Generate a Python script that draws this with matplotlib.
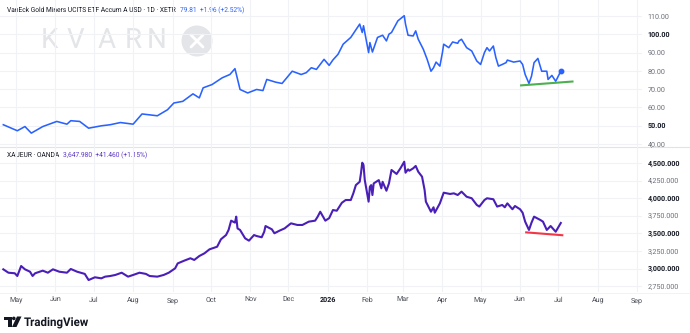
import matplotlib
matplotlib.use("Agg")
import matplotlib.pyplot as plt
import matplotlib.transforms as mtransforms
from matplotlib.patches import Circle, Polygon
import pandas as pd

plt.rcParams['font.family'] = ['Roboto', 'DejaVu Sans']
plt.rcParams['text.hinting'] = 'no_hinting'

# ---------------- data ----------------
gdx_dates = ["2025-04-21", "2025-05-02", "2025-05-08", "2025-05-13", "2025-05-22", "2025-06-02",
             "2025-06-10", "2025-06-13", "2025-06-20", "2025-06-27", "2025-07-07", "2025-07-14",
             "2025-07-22", "2025-08-01", "2025-08-08", "2025-08-20", "2025-08-28", "2025-09-02",
             "2025-09-09", "2025-09-17", "2025-09-22", "2025-09-25", "2025-10-02", "2025-10-10",
             "2025-10-16", "2025-10-20", "2025-10-24", "2025-10-30", "2025-11-06", "2025-11-11",
             "2025-11-14", "2025-11-21", "2025-11-26", "2025-12-04", "2025-12-11", "2025-12-15",
             "2025-12-19", "2025-12-23", "2025-12-29", "2026-01-02", "2026-01-05", "2026-01-09",
             "2026-01-13", "2026-01-19", "2026-01-26", "2026-01-28", "2026-01-29", "2026-02-02",
             "2026-02-03", "2026-02-05", "2026-02-09", "2026-02-13", "2026-02-16", "2026-02-18",
             "2026-02-20", "2026-02-25", "2026-03-02", "2026-03-03", "2026-03-05", "2026-03-09",
             "2026-03-11", "2026-03-13", "2026-03-17", "2026-03-20", "2026-03-23", "2026-03-25",
             "2026-03-27", "2026-03-30", "2026-04-01", "2026-04-02", "2026-04-06", "2026-04-09",
             "2026-04-13", "2026-04-14", "2026-04-16", "2026-04-20", "2026-04-24", "2026-04-28",
             "2026-05-01", "2026-05-04", "2026-05-06", "2026-05-08", "2026-05-11", "2026-05-13",
             "2026-05-15", "2026-05-18", "2026-05-21", "2026-05-22", "2026-05-27", "2026-06-01",
             "2026-06-03", "2026-06-05", "2026-06-08", "2026-06-10", "2026-06-12", "2026-06-15",
             "2026-06-18", "2026-06-22", "2026-06-23", "2026-06-26", "2026-06-29", "2026-07-03"]
gdx_values = [50.5, 47.2, 49.5, 45.9, 49.5, 52.3,
              50.8, 52.7, 52.3, 48.6, 49.9, 50.5,
              51.7, 50.8, 56.4, 55.4, 58.7, 62.4,
              63.3, 67.4, 65.2, 70.7, 72.5, 76.2,
              78.0, 81.2, 69.8, 67.9, 69.8, 69.2,
              75.3, 73.8, 73.1, 79.8, 78.0, 79.0,
              81.7, 80.8, 86.3, 83.0, 86.0, 89.1,
              94.6, 98.3, 105.6, 101.0, 104.7, 90.0,
              95.5, 90.3, 98.3, 99.5, 96.4, 100.1,
              101.0, 107.4, 110.2, 105.6, 99.5, 99.1,
              101.9, 97.3, 91.8, 86.3, 79.8, 81.7,
              84.8, 82.6, 90.0, 94.6, 92.7, 95.8,
              95.1, 96.4, 97.3, 92.7, 90.9, 85.4,
              83.5, 90.0, 92.7, 90.9, 93.6, 87.2,
              82.6, 83.5, 84.5, 85.9, 84.8, 85.4,
              83.5, 78.0, 73.1, 77.1, 84.5, 86.8,
              79.8, 79.8, 75.3, 77.5, 74.3, 79.81]

xau_dates = ["2025-04-21", "2025-04-25", "2025-04-30", "2025-05-02", "2025-05-05", "2025-05-08",
             "2025-05-12", "2025-05-14", "2025-05-16", "2025-05-22", "2025-05-26", "2025-05-30",
             "2025-06-04", "2025-06-10", "2025-06-13", "2025-06-18", "2025-06-24", "2025-06-27",
             "2025-07-02", "2025-07-07", "2025-07-10", "2025-07-14", "2025-07-18", "2025-07-23",
             "2025-07-28", "2025-08-01", "2025-08-06", "2025-08-11", "2025-08-14", "2025-08-20",
             "2025-08-25", "2025-08-29", "2025-09-03", "2025-09-05", "2025-09-10", "2025-09-15",
             "2025-09-18", "2025-09-22", "2025-09-26", "2025-09-30", "2025-10-06", "2025-10-09",
             "2025-10-13", "2025-10-15", "2025-10-17", "2025-10-20", "2025-10-21", "2025-10-22",
             "2025-10-24", "2025-10-28", "2025-10-31", "2025-11-04", "2025-11-06", "2025-11-10",
             "2025-11-12", "2025-11-13", "2025-11-18", "2025-11-20", "2025-11-24", "2025-11-28",
             "2025-12-03", "2025-12-08", "2025-12-12", "2025-12-17", "2025-12-22", "2025-12-24",
             "2025-12-26", "2025-12-30", "2026-01-02", "2026-01-05", "2026-01-08", "2026-01-12",
             "2026-01-15", "2026-01-19", "2026-01-21", "2026-01-23", "2026-01-26", "2026-01-27",
             "2026-01-28", "2026-01-29", "2026-01-30", "2026-02-02", "2026-02-03", "2026-02-04",
             "2026-02-05", "2026-02-06", "2026-02-10", "2026-02-12", "2026-02-13", "2026-02-16",
             "2026-02-18", "2026-02-20", "2026-02-24", "2026-02-27", "2026-03-02", "2026-03-03",
             "2026-03-05", "2026-03-06", "2026-03-09", "2026-03-11", "2026-03-13", "2026-03-16",
             "2026-03-18", "2026-03-19", "2026-03-23", "2026-03-25", "2026-03-26", "2026-03-30",
             "2026-04-02", "2026-04-07", "2026-04-10", "2026-04-13", "2026-04-16", "2026-04-20",
             "2026-04-24", "2026-04-28", "2026-04-30", "2026-05-04", "2026-05-06", "2026-05-11",
             "2026-05-14", "2026-05-18", "2026-05-20", "2026-05-22", "2026-05-26", "2026-05-28",
             "2026-06-01", "2026-06-03", "2026-06-05", "2026-06-08", "2026-06-10", "2026-06-12",
             "2026-06-17", "2026-06-19", "2026-06-22", "2026-06-25", "2026-06-29", "2026-07-03"]
xau_values = [2990, 2942, 2934, 2895, 3037, 2990,
              2956, 2895, 2934, 2971, 2942, 2990,
              2956, 2942, 2995, 2956, 2925, 2838,
              2877, 2862, 2886, 2895, 2910, 2942,
              2886, 2910, 2942, 2925, 2895, 2886,
              2910, 2942, 3004, 3074, 3112, 3147,
              3123, 3179, 3217, 3274, 3311, 3417,
              3477, 3549, 3681, 3653, 3738, 3571,
              3549, 3430, 3397, 3477, 3463, 3445,
              3524, 3605, 3558, 3502, 3539, 3571,
              3643, 3620, 3620, 3667, 3681, 3738,
              3808, 3681, 3717, 3832, 3822, 3935,
              3974, 3974, 4069, 4186, 4233, 4354,
              4504, 4471, 4257, 3951, 4162, 4186,
              4045, 4210, 4257, 4140, 4233, 4106,
              4210, 4401, 4344, 4424, 4518, 4362,
              4410, 4390, 4424, 4458, 4376, 4305,
              4116, 3951, 3808, 3871, 3794, 3927,
              4078, 4060, 4069, 4045, 4093, 4021,
              3999, 3904, 3881, 3974, 3999, 3985,
              3881, 3904, 3871, 3927, 3843, 3889,
              3843, 3794, 3667, 3549, 3653, 3738,
              3690, 3667, 3549, 3605, 3524, 3647.98]

green_dates = ["2026-06-01", "2026-07-13"]
green_values = [72.0, 74.2]
red_dates = ["2026-06-05", "2026-07-05"]
red_values = [3516, 3473]

gdx_ticks = [40, 50, 60, 70, 80, 90, 100, 110]
xau_ticks = [2750, 3000, 3250, 3500, 3750, 4000, 4250, 4500]
month_starts = pd.date_range("2025-05-01", "2026-09-01", freq="MS")
month_labels = ["2026" if d.month == 1 else d.strftime("%b") for d in month_starts]

gdx_title = "VanEck Gold Miners UCITS ETF Accum A USD \u00b7 1D \u00b7 XETR"
gdx_quote = "79.81  +1.96 (+2.52%)"
xau_title = "XAUEUR \u00b7 OANDA"
xau_quote = "3,647.980  +41.460 (+1.15%)"

# ---------------- figure ----------------
W, H = 690, 333
fig = plt.figure(figsize=(W / 100, H / 100), dpi=100, facecolor="white")

def fy(y):
    return 1 - y / H

PANE_R = 642
SEP = 147
BOT = 292

ov = fig.add_axes([0, 0, 1, 1], zorder=0)
ov.set_xlim(0, W)
ov.set_ylim(H, 0)
ov.axis("off")

ax1 = fig.add_axes([0, fy(SEP), PANE_R / W, SEP / H], zorder=1)
ax2 = fig.add_axes([0, fy(BOT), PANE_R / W, (BOT - SEP) / H], zorder=1)

BLUE = "#2962ff"
PURPLE = "#4a1fb8"
GRID = "#f0f2f6"
TXT = "#131722"
GREY = "#6a6d78"

x0 = pd.Timestamp("2025-05-01") - pd.Timedelta(days=12.6)
x1 = pd.Timestamp("2025-05-01") + pd.Timedelta(days=491.8)

gdx_d = pd.to_datetime(gdx_dates)
xau_d = pd.to_datetime(xau_dates)

for ax in (ax1, ax2):
    ax.patch.set_alpha(0)
    for s in ax.spines.values():
        s.set_visible(False)
    ax.set_xlim(x0, x1)
    ax.set_xticks(month_starts)
    ax.grid(True, color=GRID, lw=0.8)
    ax.set_axisbelow(True)
    ax.yaxis.tick_right()
    ax.tick_params(axis="both", length=0, labelsize=5.1, colors=GREY)
    ax.tick_params(axis="y", pad=4.0)

ax1.tick_params(labelbottom=False)

ax1.plot(gdx_d, gdx_values, color=BLUE, lw=1.15, solid_joinstyle="round")
ax1.plot(gdx_d[-1:], gdx_values[-1:], "o", color=BLUE, ms=3.2)
ax1.plot(pd.to_datetime(green_dates), green_values, color="#4caf50", lw=1.5,
         solid_capstyle="butt")
ax1.set_ylim(38.3, 118.8)
ax1.set_yticks(gdx_ticks)
ax1.set_yticklabels([f"{v:.2f}" for v in gdx_ticks])
for lbl, v in zip(ax1.get_yticklabels(), gdx_ticks):
    if v % 50 == 0:
        lbl.set_fontweight("bold")
        lbl.set_color(TXT)

ax2.plot(xau_d, xau_values, color=PURPLE, lw=1.5, solid_joinstyle="round")
ax2.plot(pd.to_datetime(red_dates), red_values, color="#f23645", lw=1.5,
         solid_capstyle="butt")
ax2.set_ylim(2668, 4727)
ax2.set_yticks(xau_ticks)
ax2.set_yticklabels([f"{v:,.3f}" for v in xau_ticks])
for lbl, v in zip(ax2.get_yticklabels(), xau_ticks):
    if v % 500 == 0:
        lbl.set_fontweight("bold")
        lbl.set_color(TXT)
ax2.set_xticklabels(month_labels)
ax2.tick_params(axis="x", pad=3.5, colors="#4a4d57")
for lbl, t in zip(ax2.get_xticklabels(), month_labels):
    if t == "2026":
        lbl.set_fontweight("bold")
        lbl.set_color(TXT)

# partially hidden 4,750 label cut by the pane border (as in the reference)
trans = mtransforms.blended_transform_factory(ax2.transAxes, ax2.transData)
t4750 = ax2.text(1.0 + 5.6 / PANE_R, 4750, "4,750.000", transform=trans, fontsize=5.1,
                 color=GREY, va="center", ha="left", clip_on=True)
t4750.set_clip_box(mtransforms.TransformedBbox(
    mtransforms.Bbox([[PANE_R / W, 0], [1, fy(SEP)]]), fig.transFigure))

# pane separator and time-axis border
ov.plot([0, W], [SEP, SEP], color="#e0e3eb", lw=0.8)
ov.plot([0, W], [BOT + 0.5, BOT + 0.5], color="#eef0f4", lw=0.6)

# watermark
for ch, cx in zip("KVARN", [49, 75, 106.5, 133.5, 156.5]):
    ov.text(cx, 40, ch, fontsize=20, color="#e3e5e8", ha="center", va="center",
            fontweight="normal")
ov.add_patch(Circle((197, 41), 15.5, color="#e3e5e8", lw=0))
ov.plot([191, 203], [35, 47], color="white", lw=2.0, solid_capstyle="round")
ov.plot([191, 203], [47, 35], color="white", lw=2.0, solid_capstyle="round")

# legends / headers
h1 = ov.text(7, 10, gdx_title, fontsize=4.8, color=TXT, va="center", ha="left")
ov.annotate(gdx_quote, xy=(1, 0.5), xycoords=h1, xytext=(3, 0), textcoords="offset points",
            fontsize=4.8, color=BLUE, va="center", ha="left")
h2 = ov.text(7, 155, xau_title, fontsize=4.8, color=TXT, va="center", ha="left")
ov.annotate(xau_quote, xy=(1, 0.5), xycoords=h2, xytext=(3, 0), textcoords="offset points",
            fontsize=4.8, color="#5a35c8", va="center", ha="left")

# TradingView logo
ov.add_patch(Polygon([[4, 316.5], [11.5, 316.5], [11.5, 327], [8, 327], [8, 320], [4, 320]],
                     closed=True, color=TXT, lw=0))
ov.add_patch(Circle((13.8, 318.4), 1.8, color=TXT, lw=0))
ov.add_patch(Polygon([[17, 316.5], [21.5, 316.5], [16.5, 327], [12, 327]],
                     closed=True, color=TXT, lw=0))
ov.text(24, 322, "TradingView", fontsize=8.3, fontweight="bold", color=TXT,
        va="center", ha="left")

fig.savefig("out.png", dpi=100, facecolor="white")
